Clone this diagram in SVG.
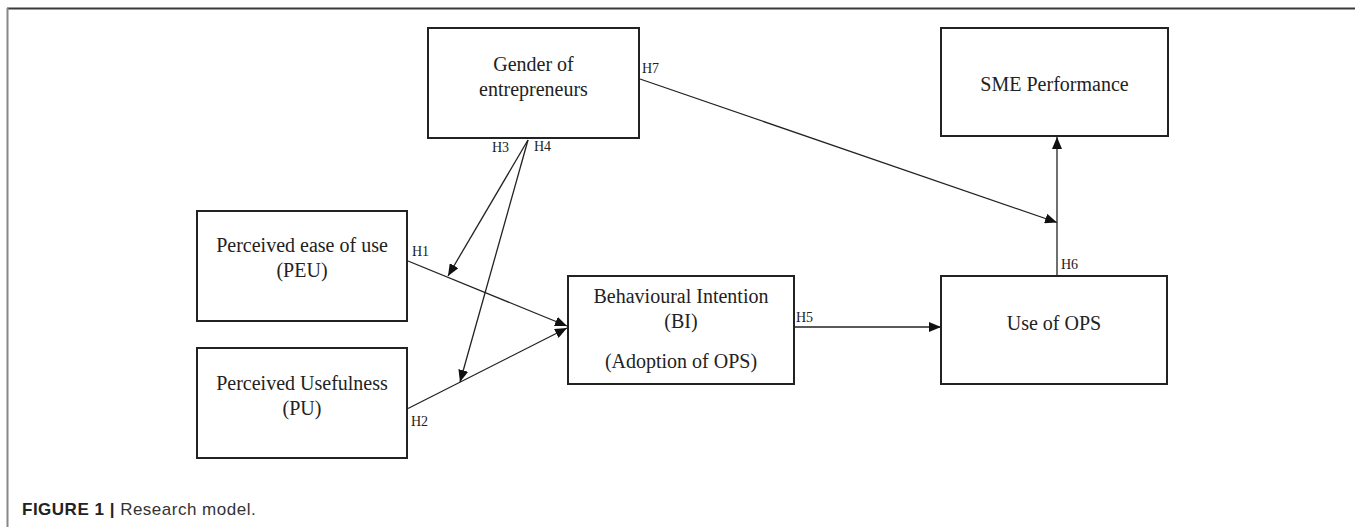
<svg xmlns="http://www.w3.org/2000/svg" width="1355" height="527" viewBox="0 0 1355 527">
<style>
.box{fill:#fff;stroke:#222;stroke-width:2}
.t{font-family:"Liberation Serif","Times New Roman",serif;font-size:20px;fill:#222;text-anchor:middle}
.h{font-family:"Liberation Serif","Times New Roman",serif;font-size:14px;fill:#222}
.c{fill:none;stroke:#222;stroke-width:1.3}
.cap{font-family:"Liberation Sans",Arial,sans-serif;font-size:17px;fill:#333;letter-spacing:0.5px}
</style>
<defs>
<marker id="ah" markerUnits="userSpaceOnUse" markerWidth="12" markerHeight="10" refX="12" refY="5" orient="auto">
<path d="M0,0 L12,5 L0,10 z" fill="#111"/>
</marker>
</defs>
<rect width="1355" height="527" fill="#fff"/>
<line x1="7" y1="8.5" x2="1355" y2="8.5" stroke="#3a3a3a" stroke-width="2"/>
<line x1="7.5" y1="8" x2="7.5" y2="527" stroke="#888" stroke-width="2"/>

<g id="connectors">
<line class="c" x1="640" y1="79" x2="1057" y2="222.5" marker-end="url(#ah)"/>
<line class="c" x1="1057" y1="276" x2="1057" y2="137" marker-end="url(#ah)"/>
<line class="c" x1="794" y1="327" x2="941" y2="327" marker-end="url(#ah)"/>
<line class="c" x1="408" y1="261" x2="567" y2="326" marker-end="url(#ah)"/>
<line class="c" x1="408" y1="408.5" x2="567" y2="328" marker-end="url(#ah)"/>
<line class="c" x1="528" y1="140" x2="448" y2="276" marker-end="url(#ah)"/>
<line class="c" x1="528" y1="140" x2="460" y2="382" marker-end="url(#ah)"/>
</g>

<g id="gender">
<rect class="box" x="428" y="28" width="211" height="110"/>
<text class="t" x="533.5" y="71">Gender of</text>
<text class="t" x="533.5" y="96">entrepreneurs</text>
</g>
<g id="sme">
<rect class="box" x="941" y="28" width="227" height="108"/>
<text class="t" x="1054.5" y="91">SME Performance</text>
</g>
<g id="peu">
<rect class="box" x="197" y="211" width="210" height="110"/>
<text class="t" x="302" y="252">Perceived ease of use</text>
<text class="t" x="302" y="277">(PEU)</text>
</g>
<g id="pu">
<rect class="box" x="197" y="348" width="210" height="110"/>
<text class="t" x="302" y="390">Perceived Usefulness</text>
<text class="t" x="302" y="415">(PU)</text>
</g>
<g id="bi">
<rect class="box" x="568" y="276" width="226" height="108"/>
<text class="t" x="681" y="303">Behavioural Intention</text>
<text class="t" x="681" y="328">(BI)</text>
<text class="t" x="681" y="368">(Adoption of OPS)</text>
</g>
<g id="use">
<rect class="box" x="941" y="276" width="226" height="108"/>
<text class="t" x="1054" y="330">Use of OPS</text>
</g>

<g id="labels">
<text class="h" x="642" y="73">H7</text>
<text class="h" x="492" y="152">H3</text>
<text class="h" x="534" y="151">H4</text>
<text class="h" x="412" y="256">H1</text>
<text class="h" x="411" y="426">H2</text>
<text class="h" x="796" y="322">H5</text>
<text class="h" x="1061" y="269">H6</text>
</g>

<text class="cap" x="22" y="515"><tspan font-weight="bold" fill="#222">FIGURE 1</tspan> <tspan font-weight="bold" fill="#222">|</tspan> Research model.</text>
</svg>
